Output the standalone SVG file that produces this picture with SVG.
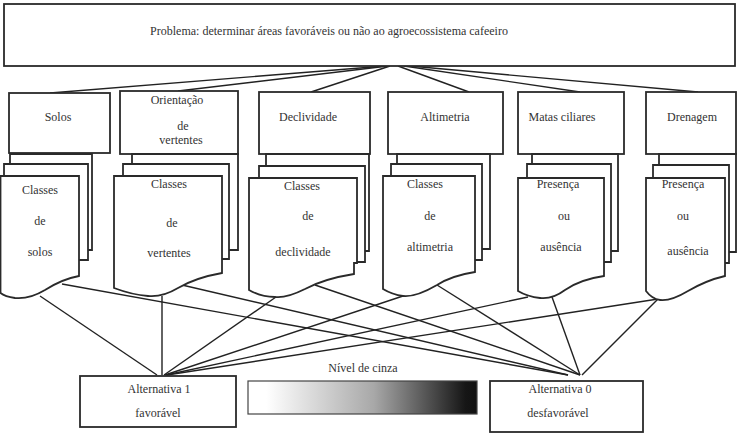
<svg xmlns="http://www.w3.org/2000/svg" width="739" height="436" viewBox="0 0 739 436">
<defs>
<linearGradient id="grey" x1="0" y1="0" x2="1" y2="0">
<stop offset="0" stop-color="#ffffff"/>
<stop offset="0.08" stop-color="#ffffff"/>
<stop offset="0.55" stop-color="#a8a8a8"/>
<stop offset="0.95" stop-color="#161616"/>
<stop offset="1" stop-color="#111111"/>
</linearGradient>
</defs>
<style>
.box{fill:#fff;stroke:#2a2a2a;stroke-width:1.8}
.ln{fill:none;stroke:#2a2a2a;stroke-width:1.8}
.doc{fill:#fff;stroke:#2a2a2a;stroke-width:1.8;stroke-linejoin:miter}
.cn{fill:none;stroke:#222;stroke-width:1.4}
text{font-family:"Liberation Serif","Times New Roman",serif;font-size:12px;fill:#333;text-anchor:middle}
</style>
<rect width="739" height="436" fill="#fff"/>

<g id="connectors">
<line class="cn" x1="385" y1="66" x2="50" y2="93"/>
<line class="cn" x1="388" y1="66" x2="178" y2="91"/>
<line class="cn" x1="390" y1="66" x2="311" y2="92"/>
<line class="cn" x1="398" y1="66" x2="469" y2="92"/>
<line class="cn" x1="404" y1="66" x2="580" y2="92"/>
<line class="cn" x1="410" y1="66" x2="698" y2="92"/>

<line class="cn" x1="40" y1="296" x2="157" y2="375"/>
<line class="cn" x1="62" y1="284" x2="568" y2="375"/>
<line class="cn" x1="162" y1="296" x2="162" y2="375"/>
<line class="cn" x1="182" y1="285" x2="568" y2="375"/>
<line class="cn" x1="276" y1="297" x2="164" y2="375"/>
<line class="cn" x1="315" y1="285" x2="580" y2="375"/>
<line class="cn" x1="403" y1="296" x2="165" y2="375"/>
<line class="cn" x1="437" y1="285" x2="580" y2="375"/>
<line class="cn" x1="528" y1="297" x2="166" y2="375"/>
<line class="cn" x1="552" y1="297" x2="580" y2="375"/>
<line class="cn" x1="658" y1="299" x2="167" y2="375"/>
<line class="cn" x1="658" y1="299" x2="582" y2="375"/>
</g>

<g id="problema">
<rect class="box" x="4" y="4" width="731" height="62"/>
<text x="329" y="35">Problema: determinar áreas favoráveis ou não ao agroecossistema cafeeiro</text>
</g>

<g id="solos">
<rect class="box" x="9" y="93" width="101" height="60"/>
<text x="58" y="121">Solos</text>
<polyline class="ln" points="10,164 10,154 92,154 92,250 88,250"/>
<polyline class="ln" points="4,176 4,164 88,164 88,260 79,260"/>
<path class="doc" d="M0.5,176 H79 V276 C68,278 56,283 45,290 C35,296 25,299 15,298 C8,297 3,295 0.5,293 Z"/>
<text x="40" y="194">Classes</text>
<text x="40" y="225">de</text>
<text x="40" y="256">solos</text>
</g>

<g id="orientacao">
<rect class="box" x="120" y="91" width="118" height="63"/>
<text x="177" y="104">Orientação</text>
<text x="183" y="130">de</text>
<text x="181" y="144">vertentes</text>
<polyline class="ln" points="132,164 132,154 238,154 238,250 229,250"/>
<polyline class="ln" points="123,176 123,164 229,164 229,259 222,259"/>
<path class="doc" d="M114,176 H222 V273 C205,276 190,281 178,288 C168,294 158,297 148,296 C135,295 122,291 114,288 Z"/>
<text x="169" y="188">Classes</text>
<text x="172" y="227">de</text>
<text x="169" y="257">vertentes</text>
</g>

<g id="declividade">
<rect class="box" x="259" y="92" width="111" height="62"/>
<text x="308" y="121">Declividade</text>
<polyline class="ln" points="266,166 266,154 369,154 369,251 365,251"/>
<polyline class="ln" points="259,178 259,166 365,166 365,262 357,262"/>
<path class="doc" d="M249,178 H357 V263 H354 V274 C335,277 318,282 305,289 C293,295 283,298 275,297 C265,297 256,294 249,290 Z"/>
<text x="302" y="190">Classes</text>
<text x="308" y="220">de</text>
<text x="303" y="256">declividade</text>
</g>

<g id="altimetria">
<rect class="box" x="388" y="92" width="115" height="62"/>
<text x="445" y="121">Altimetria</text>
<polyline class="ln" points="397,164 397,154 490,154 490,249 482,249"/>
<polyline class="ln" points="391,176 391,164 482,164 482,260 475,260"/>
<path class="doc" d="M383,176 H475 V272 C462,274 448,278 437,285 C425,292 412,297 403,296 C395,295 388,292 383,289 Z"/>
<text x="425" y="188">Classes</text>
<text x="430" y="220">de</text>
<text x="430" y="251">altimetria</text>
</g>

<g id="matas">
<rect class="box" x="518" y="92" width="106" height="62"/>
<text x="562" y="121">Matas ciliares</text>
<polyline class="ln" points="532,164 532,154 618,154 618,251 611,251"/>
<polyline class="ln" points="527,178 527,164 611,164 611,262 604,262"/>
<path class="doc" d="M518,178 H604 V276 C590,278 575,283 565,290 C557,296 548,299 540,298 C530,297 523,294 518,291 Z"/>
<text x="558" y="188">Presença</text>
<text x="564" y="220">ou</text>
<text x="561" y="251">ausência</text>
</g>

<g id="drenagem">
<rect class="box" x="646" y="92" width="90" height="62"/>
<text x="692" y="121">Drenagem</text>
<polyline class="ln" points="659,165 659,154 736,154 736,252 729,252"/>
<polyline class="ln" points="653,178 653,165 729,165 729,263 725,263"/>
<path class="doc" d="M646,178 H725 V276 C712,279 700,284 688,291 C678,297 668,301 660,300 C653,299 649,295 646,291 Z"/>
<text x="683" y="188">Presença</text>
<text x="683" y="220">ou</text>
<text x="688" y="255">ausência</text>
</g>

<g id="alternativa1">
<rect class="box" x="80" y="376" width="156" height="51"/>
<text x="159" y="393">Alternativa 1</text>
<text x="158" y="417">favorável</text>
</g>

<g id="nivel">
<text x="363" y="372">Nível de cinza</text>
<rect x="248" y="381" width="229" height="33" fill="url(#grey)" stroke="#444" stroke-width="1.2"/>
</g>

<g id="alternativa0">
<rect class="box" x="490" y="381" width="153" height="51"/>
<text x="560" y="393">Alternativa 0</text>
<text x="558" y="417">desfavorável</text>
</g>
</svg>
